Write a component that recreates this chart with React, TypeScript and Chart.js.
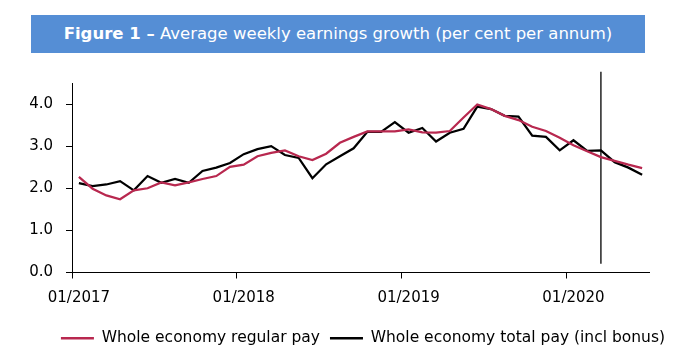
import { useEffect, useRef } from "react";
import { Chart, registerables } from "chart.js";

Chart.register(...registerables);

const xTickLabels = ["01/2017", "01/2018", "01/2019", "01/2020"];
const yTickValues = [0, 1, 2, 3, 4];
const regularPay = [
  2.27, 1.99, 1.83, 1.74, 1.95, 2.0, 2.14, 2.07, 2.14, 2.22, 2.29, 2.51,
  2.56, 2.76, 2.84, 2.9, 2.76, 2.67, 2.82, 3.08, 3.22, 3.35, 3.35, 3.35,
  3.4, 3.33, 3.32, 3.36, 3.68, 3.99, 3.88, 3.72, 3.62, 3.46, 3.36, 3.2,
  3.02, 2.88, 2.74, 2.65, 2.56, 2.48,
];
const totalPay = [
  2.12, 2.05, 2.09, 2.17, 1.95, 2.29, 2.13, 2.22, 2.13, 2.41, 2.49, 2.6,
  2.81, 2.93, 3.0, 2.79, 2.72, 2.24, 2.57, 2.76, 2.95, 3.34, 3.34, 3.57,
  3.32, 3.43, 3.11, 3.32, 3.41, 3.94, 3.88, 3.72, 3.7, 3.25, 3.22, 2.9,
  3.14, 2.89, 2.9, 2.62, 2.49, 2.32,
];
const markerMonth = [38];
const markerRange = [0.21, 4.77];

const RED = "#B8284F";
const FONT = "'DejaVu Sans', sans-serif";

export default function App() {
  const ref = useRef<HTMLCanvasElement | null>(null);

  useEffect(() => {
    if (!ref.current) return;
    const toPts = (arr: number[]) => arr.map((v, i) => ({ x: i + 0.5, y: v }));
    const chart = new Chart(ref.current, {
      type: "line",
      data: {
        datasets: [
          {
            label: "Whole economy regular pay",
            data: toPts(regularPay),
            borderColor: RED,
            backgroundColor: RED,
            borderWidth: 2.25,
            pointRadius: 0,
            tension: 0,
          },
          {
            label: "Whole economy total pay (incl bonus)",
            data: toPts(totalPay),
            borderColor: "#000000",
            backgroundColor: "#000000",
            borderWidth: 2.25,
            pointRadius: 0,
            tension: 0,
          },
          {
            label: "marker",
            data: markerRange.map((y) => ({ x: markerMonth[0] + 0.5, y })),
            borderColor: "#000000",
            backgroundColor: "#000000",
            borderWidth: 1.3,
            pointRadius: 0,
            clip: false as any,
          },
        ],
      },
      options: {
        animation: false,
        responsive: false,
        maintainAspectRatio: false,
        layout: { padding: { left: 0, right: 0, top: 83, bottom: 8 } },
        plugins: {
          tooltip: { enabled: false },
          legend: {
            position: "bottom",
            align: "end",
            labels: {
              color: "#000",
              font: { family: FONT, size: 15.5 },
              boxWidth: 33,
              boxHeight: 2.5,
              padding: 10,
              generateLabels: (c: any) =>
                (Chart.defaults.plugins.legend.labels as any)
                  .generateLabels(c)
                  .filter((l: any) => l.datasetIndex < 2)
                  .map((l: any) => ({ ...l, lineWidth: 0 })),
            },
          },
        },
        scales: {
          x: {
            type: "linear",
            min: 0,
            max: 42,
            afterFit: (s: any) => {
              s.height = 48;
            },
            afterBuildTicks: (s: any) => {
              s.ticks = xTickLabels.map((_, i) => ({ value: i * 12 }));
            },
            ticks: {
              color: "#000",
              font: { family: FONT, size: 15 },
              padding: 11,
              labelOffset: 6.9,
              maxRotation: 0,
              autoSkip: false,
              callback: (v: any) => xTickLabels[Math.round(Number(v) / 12)] ?? "",
            },
            grid: {
              drawOnChartArea: false,
              color: "#000",
              tickLength: 6,
              tickWidth: 1,
            },
            border: { color: "#000", width: 1 },
          },
          y: {
            min: 0,
            max: 4.5,
            afterFit: (s: any) => {
              s.width = 72;
            },
            afterBuildTicks: (s: any) => {
              s.ticks = yTickValues.map((v) => ({ value: v }));
            },
            ticks: {
              color: "#000",
              font: { family: FONT, size: 15 },
              padding: 13,
              callback: (v: any) => Number(v).toFixed(1),
            },
            grid: {
              drawOnChartArea: false,
              color: "#000",
              tickLength: 6,
              tickWidth: 1,
            },
            border: { color: "#000", width: 1 },
          },
          yRightSpacer: {
            type: "linear",
            position: "right",
            min: 0,
            max: 4.5,
            afterFit: (s: any) => {
              s.width = 26;
            },
            ticks: { display: false },
            grid: { display: false },
            border: { display: false },
          },
        },
      },
    });
    return () => chart.destroy();
  }, []);

  return (
    <div
      style={{
        position: "absolute",
        left: 0,
        top: 0,
        width: 675,
        height: 364,
        background: "#fff",
      }}
    >
      <canvas
        ref={ref}
        width={675}
        height={364}
        style={{ position: "absolute", left: 0, top: 0, width: 675, height: 364 }}
      />
      <div
        style={{
          position: "absolute",
          left: 31,
          top: 15,
          width: 614,
          height: 38,
          background: "#558ED5",
          color: "#fff",
          fontFamily: FONT,
          fontSize: 16.5,
          lineHeight: "38px",
          textAlign: "center",
          whiteSpace: "nowrap",
        }}
      >
        <b>Figure 1 –</b> Average weekly earnings growth (per cent per annum)
      </div>
    </div>
  );
}
